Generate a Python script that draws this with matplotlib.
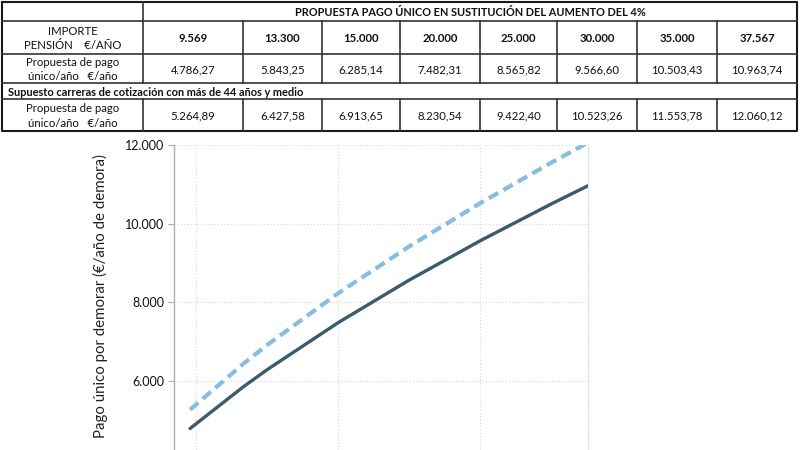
import numpy as np
import matplotlib
matplotlib.use("Agg")
import matplotlib.pyplot as plt
from matplotlib.ticker import FuncFormatter

plt.rcParams['font.family'] = ['Lato', 'DejaVu Sans']

pension = [9569, 13300, 15000, 20000, 25000, 30000, 35000, 37567]
pension_labels = ["9.569", "13.300", "15.000", "20.000", "25.000", "30.000", "35.000", "37.567"]
pago_unico = [4786.27, 5843.25, 6285.14, 7482.31, 8565.82, 9566.60, 10503.43, 10963.74]
pago_44 = [5264.89, 6427.58, 6913.65, 8230.54, 9422.40, 10523.26, 11553.78, 12060.12]

title_txt = "PROPUESTA PAGO ÚNICO EN SUSTITUCIÓN DEL AUMENTO DEL 4%"
subtitle_txt = "Supuesto carreras de cotización con más de 44 años y medio"
head_txt = "IMPORTE\nPENSIÓN    €/AÑO"
row_txt = "Propuesta de pago\núnico/año   €/año"
yticks = [6000, 8000, 10000, 12000]


def es_num(v, dec=2):
    s = f"{v:,.{dec}f}"
    return s.replace(",", "X").replace(".", ",").replace("X", ".")


fig = plt.figure(figsize=(8, 4.5), dpi=100)

# ---- table drawn in pixel coordinates
tax = fig.add_axes([0, 0, 1, 1])
tax.set_xlim(0, 800)
tax.set_ylim(450, 0)
tax.axis('off')

col_edges = [2, 143, 243, 322, 400, 480, 557, 637, 717, 797]
row_edges = [2, 21, 54, 83, 99, 131]
line_c = '#333333'

# outer border
tax.plot([col_edges[0], col_edges[-1], col_edges[-1], col_edges[0], col_edges[0]],
         [row_edges[0], row_edges[0], row_edges[-1], row_edges[-1], row_edges[0]],
         color='#1a1a1a', lw=1.5)
# horizontal lines
for y in row_edges[1:-1]:
    tax.plot([col_edges[0], col_edges[-1]], [y, y], color=line_c, lw=1.2)
# vertical lines (not across the title / subtitle rows)
for x in col_edges[1:-1]:
    for r0, r1 in [(1, 3), (4, 5)]:
        tax.plot([x, x], [row_edges[r0], row_edges[r1]], color=line_c, lw=1.2)
tax.plot([col_edges[1], col_edges[1]], [row_edges[0], row_edges[1]], color=line_c, lw=1.2)

fs = 8.2
txt_c = '#111111'
tax.text((col_edges[1] + col_edges[-1]) / 2, (row_edges[0] + row_edges[1]) / 2 + 1, title_txt,
         ha='center', va='center', fontsize=7.9, fontweight='bold', color=txt_c)
tax.text(8, (row_edges[3] + row_edges[4]) / 2 + 1, subtitle_txt,
         ha='left', va='center', fontsize=7.9, fontweight='bold', color=txt_c)
cx0 = (col_edges[0] + col_edges[1]) / 2
for r, txt in [(1, head_txt), (2, row_txt), (4, row_txt)]:
    tax.text(cx0, (row_edges[r] + row_edges[r + 1]) / 2 + 1, txt, ha='center', va='center',
             fontsize=fs, linespacing=1.4, color=txt_c)
for i in range(len(pension)):
    cx = (col_edges[i + 1] + col_edges[i + 2]) / 2
    tax.text(cx, (row_edges[1] + row_edges[2]) / 2 + 1, pension_labels[i],
             ha='center', va='center', fontsize=fs, fontweight='bold', color=txt_c)
    tax.text(cx, (row_edges[2] + row_edges[3]) / 2 + 1, es_num(pago_unico[i]),
             ha='center', va='center', fontsize=fs, color=txt_c)
    tax.text(cx, (row_edges[4] + row_edges[5]) / 2 + 1, es_num(pago_44[i]),
             ha='center', va='center', fontsize=fs, color=txt_c)

# ---- line chart
ax = fig.add_axes([174 / 800, 0, (588 - 174) / 800, 305 / 450])
ax.plot(pension, pago_44, color='#86bde0', lw=3.0, linestyle=(0, (2.6, 1.4)),
        solid_capstyle='butt', dash_capstyle='butt')
ax.plot(pension, pago_unico, color='#3b5a6b', lw=2.4, solid_capstyle='round')
ax.set_xlim(8440, 37567)
ax.set_ylim(4240, 12000)
ax.set_yticks(yticks)
ax.yaxis.set_major_formatter(FuncFormatter(lambda v, p: es_num(v, 0)))
ax.set_xticks([10000, 20000, 30000])
ax.tick_params(axis='x', length=0, labelbottom=False)
ax.tick_params(axis='y', length=4, width=0.8, color='#aaaaaa', labelsize=9, pad=3,
               labelcolor='#111111')
ax.grid(True, color='#dadada', linestyle=':', lw=0.9)
for s in ['top', 'bottom']:
    ax.spines[s].set_visible(False)
ax.spines['left'].set_color('#b0b0b0')
ax.spines['left'].set_linewidth(1.0)
ax.spines['right'].set_color('#dadada')
ax.spines['right'].set_linestyle(':')
ax.spines['right'].set_linewidth(0.9)
ax.set_facecolor('none')
ax.set_ylabel("Pago único por demorar (€/año de demora)", fontsize=10.8, color='#222222')
ax.yaxis.set_label_coords(-0.16, 0.505)

fig.savefig("out.png", dpi=100, facecolor='white')
